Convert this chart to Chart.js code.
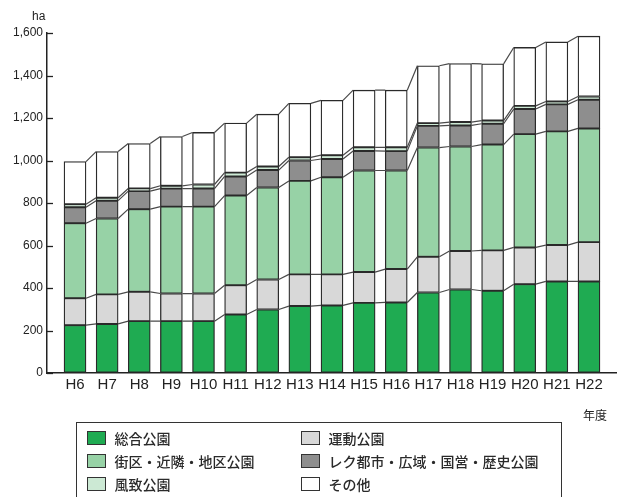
<!DOCTYPE html>
<html lang="ja">
<head>
<meta charset="utf-8">
<title>都市公園面積の推移</title>
<script src="https://cdn.jsdelivr.net/npm/chart.js@4/dist/chart.umd.min.js"></script>
<style>
    html, body { margin: 0; padding: 0; background: #fff; }
    #wrap { position: relative; width: 617px; height: 497px; overflow: hidden; }
    #grafico { position: absolute; left: 0; top: 0; }
    #legenda {
        position: absolute; left: 76px; top: 422px; width: 486px; height: 90px;
        border: 1.5px solid #333; box-sizing: border-box;
    }
    .item { position: absolute; height: 18px; display: flex; align-items: center;
        font-family: "Noto Sans CJK JP", sans-serif; font-size: 14px; font-weight: 500; color: #2a2a2a; white-space: nowrap; }
    .item span.cor { display: inline-block; width: 19px; height: 14px; border: 1.3px solid #333; box-sizing: border-box; margin-right: 9px; }
</style>
</head>
<body>
<div id="wrap">
    <canvas id="grafico" width="617" height="497"></canvas>
    <div id="legenda"></div>
</div>
<script>
// 年度
const anos = ['H6', 'H7', 'H8', 'H9', 'H10', 'H11', 'H12', 'H13', 'H14', 'H15', 'H16', 'H17', 'H18', 'H19', 'H20', 'H21', 'H22'];

// 面積 (ha) - 下から積み上げ順
const sogo    = [225, 231, 244, 244, 244, 275, 299, 315, 318, 330, 332, 379, 393, 387, 418, 431, 431];
const undo    = [127, 139, 138, 130, 130, 138, 141, 149, 146, 145, 157, 168, 181, 190, 173, 171, 185];
const gaiku   = [353, 357, 389, 409, 409, 422, 433, 440, 457, 478, 464, 514, 492, 498, 533, 535, 535];
const reku    = [75, 84, 85, 85, 85, 90, 82, 96, 86, 92, 91, 102, 99, 98, 118, 127, 135];
const fuchi   = [14, 14, 12, 13, 19, 18, 17, 15, 18, 17, 18, 13, 16, 15, 15, 14, 15];
const sonota  = [201, 217, 212, 232, 245, 233, 246, 254, 258, 269, 269, 270, 275, 267, 275, 280, 284];

const yTicks = [0, 200, 400, 600, 800, 1000, 1200, 1400, 1600];

const series = [
    { label: '総合公園', data: sogo, cor: '#1fab52' },
    { label: '運動公園', data: undo, cor: '#d8d8d8' },
    { label: '街区・近隣・地区公園', data: gaiku, cor: '#97d2a6' },
    { label: 'レク都市・広域・国営・歴史公園', data: reku, cor: '#8e8e8e' },
    { label: '風致公園', data: fuchi, cor: '#cce9d4' },
    { label: 'その他', data: sonota, cor: '#ffffff' }
];

// linhas de ligação entre as barras + marcas do eixo y + textos
const extras = {
    id: 'extras',
    afterDatasetsDraw(chart) {
        const ctx = chart.ctx;
        ctx.save();
        ctx.strokeStyle = '#4a4a4a';
        ctx.lineWidth = 1.2;
        chart.data.datasets.forEach((ds, d) => {
            const barras = chart.getDatasetMeta(d).data;
            ctx.beginPath();
            for (let i = 0; i < barras.length - 1; i++) {
                const a = barras[i], b = barras[i + 1];
                ctx.moveTo(a.x + a.width / 2, a.y);
                ctx.lineTo(b.x - b.width / 2, b.y);
            }
            ctx.stroke();
        });
        ctx.restore();
    },
    afterDraw(chart) {
        const ctx = chart.ctx;
        const y = chart.scales.y;
        const area = chart.chartArea;
        ctx.save();
        ctx.strokeStyle = '#222';
        ctx.lineWidth = 1.3;
        yTicks.forEach(v => {
            const py = Math.round(y.getPixelForValue(v)) + 0.5;
            ctx.beginPath();
            ctx.moveTo(area.left, py);
            ctx.lineTo(area.left + 6, py);
            ctx.stroke();
        });
        ctx.fillStyle = '#222';
        ctx.font = '12px "Liberation Sans", Arial, sans-serif';
        ctx.textBaseline = 'middle';
        ctx.textAlign = 'left';
        ctx.fillText('ha', 32, 17);
        ctx.font = '12px "Noto Sans CJK JP", sans-serif';
        ctx.textAlign = 'right';
        ctx.fillText('年度', 607, 415);
        ctx.restore();
    }
};

function criarGrafico() {
    const ctx = document.getElementById('grafico').getContext('2d');

    const datasets = series.map(s => ({
        label: s.label,
        data: s.data.map((v, i) => ({ x: i, y: v })),
        backgroundColor: s.cor,
        borderColor: '#2a2a2a',
        borderWidth: 1.3,
        borderSkipped: false,
        barThickness: 22
    }));

    return new Chart(ctx, {
        type: 'bar',
        data: { datasets: datasets },
        plugins: [extras],
        options: {
            responsive: false,
            animation: false,
            layout: { padding: { top: 33, left: 0, right: 0, bottom: 0 } },
            plugins: {
                legend: { display: false },
                tooltip: { enabled: false }
            },
            scales: {
                x: {
                    type: 'linear',
                    stacked: true,
                    offset: false,
                    min: -0.872,
                    max: 16.872,
                    afterBuildTicks: s => { s.ticks = anos.map((_, i) => ({ value: i })); },
                    afterFit: s => { s.height = 124; },
                    grid: { display: true, drawOnChartArea: false, drawTicks: false },
                    border: { display: true, color: '#222', width: 1.5 },
                    ticks: {
                        autoSkip: false,
                        maxRotation: 0,
                        padding: 3,
                        color: '#222',
                        font: { family: '"Liberation Sans", Arial, sans-serif', size: 15 },
                        callback: v => anos[v]
                    }
                },
                y: {
                    stacked: true,
                    min: 0,
                    max: 1600,
                    afterBuildTicks: s => { s.ticks = yTicks.map(v => ({ value: v })); },
                    afterFit: s => { s.width = 47; },
                    grid: { display: true, drawOnChartArea: false, drawTicks: false },
                    border: { display: true, color: '#222', width: 1.5 },
                    ticks: {
                        padding: 4,
                        color: '#222',
                        font: { family: '"Liberation Sans", Arial, sans-serif', size: 12 },
                        callback: v => v.toLocaleString('en-US')
                    }
                }
            }
        }
    });
}

function criarLegenda(chart) {
    const box = document.getElementById('legenda');
    chart.data.datasets.forEach((ds, i) => {
        const col = i % 2, lin = Math.floor(i / 2);
        const el = document.createElement('div');
        el.className = 'item';
        el.style.left = (col === 0 ? 9.5 : 223.5) + 'px';
        el.style.top = (6 + lin * 23) + 'px';
        const sw = document.createElement('span');
        sw.className = 'cor';
        sw.style.background = ds.backgroundColor;
        el.appendChild(sw);
        el.appendChild(document.createTextNode(ds.label));
        box.appendChild(el);
    });
}

const grafico = criarGrafico();
criarLegenda(grafico);
</script>
</body>
</html>
